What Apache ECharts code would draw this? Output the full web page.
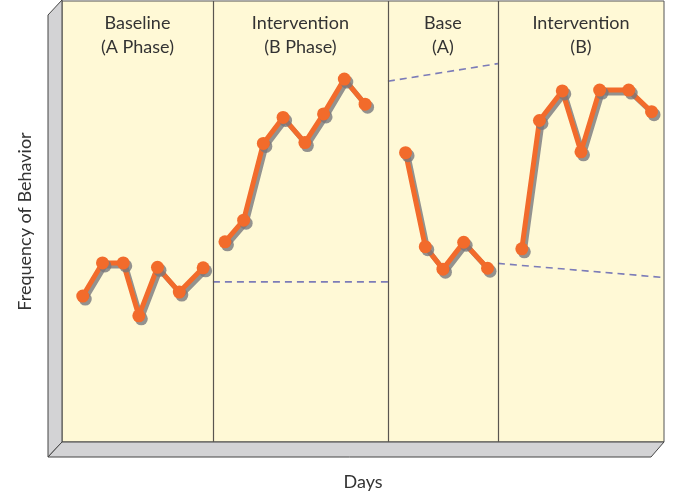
<!DOCTYPE html>
<html>
<head>
<meta charset="utf-8">
<script src="https://cdn.jsdelivr.net/npm/echarts@6/dist/echarts.min.js"></script>
<style>html,body{margin:0;padding:0;background:#fff;}#c{width:673px;height:498px;}</style>
</head>
<body>
<div id="c"></div>
<script>
// Days (x) and frequency (y, 0-100 scale)
const phaseA1Days = [1.0, 1.95, 2.95, 3.7, 4.6, 5.65, 6.8];
const phaseA1Freq = [33.1, 40.6, 40.6, 28.6, 39.6, 34.0, 39.5];
const phaseB1Days = [7.85, 8.75, 9.7, 10.65, 11.7, 12.6, 13.6, 14.6];
const phaseB1Freq = [45.4, 50.3, 67.7, 73.6, 67.9, 74.4, 82.3, 76.6];
const phaseA2Days = [16.55, 17.5, 18.35, 19.35, 20.5];
const phaseA2Freq = [65.6, 44.3, 39.2, 45.3, 39.4];
const phaseB2Days = [22.15, 23.0, 24.1, 25.0, 25.9, 27.3, 28.4];
const phaseB2Freq = [43.8, 72.9, 79.6, 65.8, 79.8, 79.8, 74.9];

const phaseBounds = [0, 7.27, 15.7, 21.0, 29];
const phaseNames = ['Baseline\n(A Phase)', 'Intervention\n(B Phase)', 'Base\n(A)', 'Intervention\n(B)'];

// dashed reference lines: [x1, y1, x2, y2]
const dashB1 = [7.27, 36.3, 15.7, 36.3];
const dashA2 = [15.7, 81.8, 21.0, 85.8];
const dashB2 = [21.0, 40.5, 29, 37.3];

const orange = '#F26B2B';
const shadow = {shadowColor: 'rgba(120,120,125,0.8)', shadowBlur: 0, shadowOffsetX: 2.5, shadowOffsetY: 3};

function pts(xs, ys){ return xs.map((x,i)=>[x, ys[i]]); }
function lineSeries(xs, ys){
  return {
    type: 'line', data: pts(xs, ys), symbol: 'circle', symbolSize: 13,
    lineStyle: Object.assign({color: orange, width: 5}, shadow),
    itemStyle: Object.assign({color: orange}, shadow),
    z: 5, animation: false, silent: true
  };
}
function dashSeries(d){
  return {
    type: 'line', data: [[d[0], d[1]], [d[2], d[3]]], symbol: 'none',
    lineStyle: {color: '#7C7CB8', width: 1.6, type: [7, 5]}, z: 4, animation: false, silent: true
  };
}

const chart = echarts.init(document.getElementById('c'), null, {renderer: 'canvas'});
const gridL = 62, gridT = 1, gridR = 673 - 664, gridB = 498 - 442;

const markAreaData = [];
for (let i = 0; i < 4; i++) {
  markAreaData.push([{xAxis: phaseBounds[i], name: phaseNames[i]}, {xAxis: phaseBounds[i+1]}]);
}

chart.setOption({
  animation: false,
  textStyle: {fontFamily: 'Lato'},
  grid: {left: gridL, top: gridT, right: gridR, bottom: gridB, show: true, backgroundColor: '#FFF9D6', borderColor: '#555', borderWidth: 1},
  xAxis: {
    type: 'value', min: 0, max: 29,
    axisLine: {show: false}, axisTick: {show: false}, axisLabel: {show: false}, splitLine: {show: false},
    name: 'Days', nameLocation: 'middle', nameGap: 31,
    nameTextStyle: {fontSize: 18, color: '#333', fontFamily: 'Lato'}
  },
  yAxis: {
    type: 'value', min: 0, max: 100,
    axisLine: {show: false}, axisTick: {show: false}, axisLabel: {show: false}, splitLine: {show: false},
    name: 'Frequency of Behavior', nameLocation: 'middle', nameGap: 28,
    nameTextStyle: {fontSize: 18, color: '#333', fontFamily: 'Lato'}
  },
  graphic: [
    {type: 'polygon', shape: {points: [[48, 15], [62, 0], [62, 442], [48, 457]]},
     style: {fill: '#D3D3D5', stroke: '#444', lineWidth: 1}, z: 1},
    {type: 'polygon', shape: {points: [[48, 457], [62, 442], [664, 442], [651, 457]]},
     style: {fill: '#D3D3D5', stroke: '#444', lineWidth: 1}, z: 1}
  ],
  series: [
    Object.assign(lineSeries(phaseA1Days, phaseA1Freq), {
      markArea: {
        silent: true,
        itemStyle: {color: 'rgba(0,0,0,0)'},
        label: {show: true, position: 'insideTop', distance: 10, fontSize: 18, lineHeight: 24, color: '#333', fontFamily: 'Lato', align: 'center'},
        data: markAreaData
      },
      markLine: {
        silent: true, symbol: 'none', label: {show: false},
        lineStyle: {color: '#5a5650', width: 1.2, type: 'solid'},
        data: phaseBounds.slice(1, 4).map(v => ({xAxis: v}))
      }
    }),
    lineSeries(phaseB1Days, phaseB1Freq),
    lineSeries(phaseA2Days, phaseA2Freq),
    lineSeries(phaseB2Days, phaseB2Freq),
    dashSeries(dashB1),
    dashSeries(dashA2),
    dashSeries(dashB2)
  ]
});
</script>
</body>
</html>
